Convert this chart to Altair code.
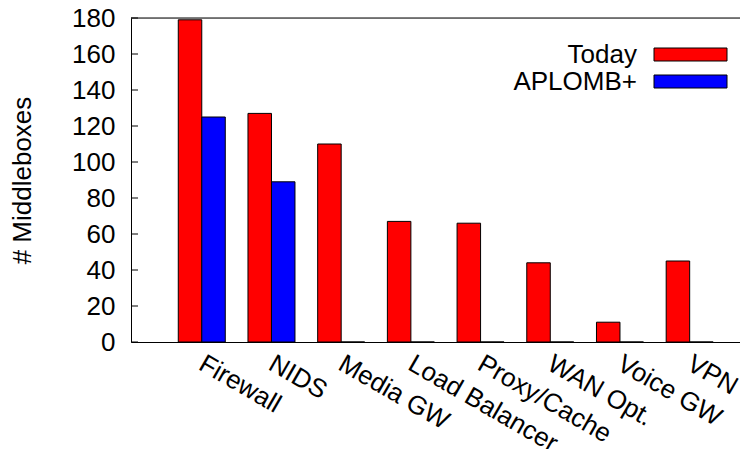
import altair as alt
import pandas as pd

categories = ["Firewall", "NIDS", "Media GW", "Load Balancer",
              "Proxy/Cache", "WAN Opt.", "Voice GW", "VPN"]
today = [179, 127, 110, 67, 66, 44, 11, 45]
aplomb = [125, 89, 0, 0, 0, 0, 0, 0]
series_names = ["Today", "APLOMB+"]
series_colors = ["#ff0000", "#0000ff"]
y_ticks = [0, 20, 40, 60, 80, 100, 120, 140, 160, 180]

rows = []
for c, t, a in zip(categories, today, aplomb):
    rows.append({"category": c, "series": "Today", "value": t})
    rows.append({"category": c, "series": "APLOMB+", "value": a})
df = pd.DataFrame(rows)

W, H = 609, 324
FONT = "Liberation Sans"

yscale = alt.Scale(domain=[0, 180], nice=False, zero=True)
yaxis = alt.Axis(values=y_ticks, title="# Middleboxes", ticks=False,
                 grid=False, labelPadding=16, labelFontSize=26,
                 titleFontSize=26, titleFontWeight="normal",
                 titleX=-109, titleBaseline="middle",
                 domainColor="black", labelColor="black",
                 titleColor="black")
color = alt.Color("series:N",
                  scale=alt.Scale(domain=series_names, range=series_colors),
                  legend=None)

bars = alt.Chart(df).mark_bar(stroke="black", strokeWidth=1).encode(
    x=alt.X("category:N", sort=categories,
            scale=alt.Scale(paddingInner=0.3257, paddingOuter=0.5316, align=0.638),
            axis=alt.Axis(title=None, ticks=False, labelAngle=30,
                          labelAlign="left", labelBaseline="top",
                          labelPadding=8, labelOffset=6, labelFontSize=26,
                          labelOverlap=False, labelFlush=False, labelBound=False,
                          domainColor="black", labelColor="black", grid=False)),
    xOffset=alt.XOffset("series:N",
                        scale=alt.Scale(domain=series_names, paddingInner=0, paddingOuter=0)),
    y=alt.Y("value:Q", scale=yscale, axis=yaxis),
    color=color,
)

tick_df = pd.DataFrame({"value": y_ticks})
tick_rules = alt.Chart(tick_df).mark_rule(color="black", strokeWidth=1).encode(
    y=alt.Y("value:Q", scale=yscale, axis=yaxis),
    x=alt.value(0), x2=alt.value(7),
)

top_df = pd.DataFrame({"value": [y_ticks[-1]]})
top_rule = alt.Chart(top_df).mark_rule(color="black", strokeWidth=1).encode(
    y=alt.Y("value:Q", scale=yscale, axis=yaxis),
)

main = alt.layer(bars, tick_rules, top_rule)

legend_df = pd.DataFrame({"series": series_names})
leg_y = alt.Y("series:N",
              scale=alt.Scale(domain=series_names, range=[23, 77],
                              paddingInner=0, paddingOuter=0),
              axis=None)
legend_bars = alt.Chart(legend_df).mark_bar(size=13, stroke="black", strokeWidth=1).encode(
    x=alt.value(523), x2=alt.value(596), y=leg_y, color=color,
)
legend_text = alt.Chart(legend_df).mark_text(
    align="right", baseline="middle", fontSize=26, font=FONT, color="black"
).encode(x=alt.value(506), y=leg_y, text="series:N")

chart = alt.layer(main, legend_bars, legend_text).resolve_scale(
    y="independent"
).properties(
    width=W, height=H,
    padding={"left": 123, "top": 10, "right": 0, "bottom": 107},
    autosize=alt.AutoSizeParams(type="none"),
).configure_view(stroke=None).configure(font=FONT).configure_axis(
    labelFont=FONT, titleFont=FONT
)

chart.save("out.html", embed_options={"renderer": "svg", "actions": False})
